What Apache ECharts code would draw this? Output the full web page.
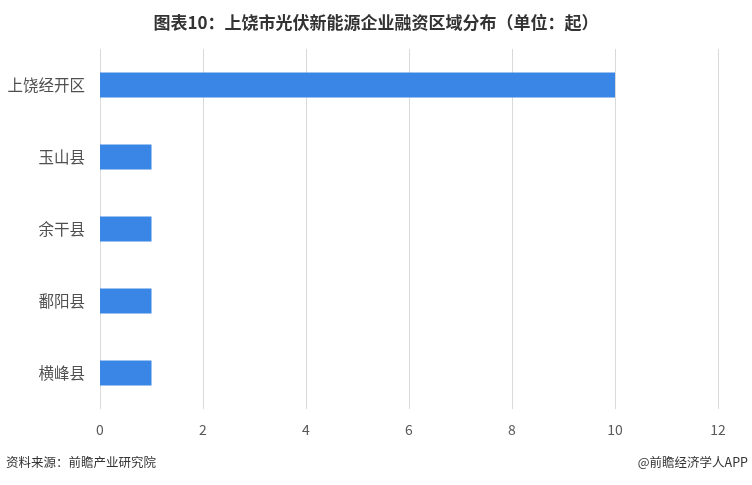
<!DOCTYPE html>
<html><head><meta charset="utf-8">
<script src="https://cdn.jsdelivr.net/npm/echarts@6/dist/echarts.min.js"></script>
<style>html,body{margin:0;padding:0;background:#fff}#c{width:752px;height:485px}</style>
</head><body><div id="c"></div>
<script>
const categories = ['上饶经开区','玉山县','余干县','鄱阳县','横峰县'];
const values = [10,1,1,1,1];
const titleText = '图表10：上饶市光伏新能源企业融资区域分布（单位：起）';
const sourceText = '资料来源：前瞻产业研究院';
const brandText = '@前瞻经济学人APP';
const chart = echarts.init(document.getElementById('c'));
const font = '"Noto Sans CJK SC", sans-serif';
chart.setOption({
  animation:false,
  backgroundColor:'#fff',
  title:{text:titleText,left:'center',top:9,textStyle:{fontSize:17,fontWeight:'bold',color:'#333',fontFamily:font}},
  grid:{left:100,right:34,top:49,bottom:76},
  xAxis:{type:'value',min:0,max:12,interval:2,
    axisLine:{show:false},axisTick:{show:false},
    splitLine:{lineStyle:{color:'#d9d9d9'}},
    axisLabel:{fontSize:14,color:'#595959',margin:14,fontFamily:font}},
  yAxis:{type:'category',data:categories,inverse:true,
    axisLine:{show:false},axisTick:{show:false},
    axisLabel:{fontSize:15.5,color:'#505050',margin:15,fontFamily:font}},
  series:[{type:'bar',data:values,barWidth:25,itemStyle:{color:'#3a86e6'}}],
  graphic:[
    {type:'text',left:6,top:456,style:{text:sourceText,fontSize:12.5,fill:'#333',fontFamily:font}},
    {type:'text',right:4,top:456,style:{text:brandText,fontSize:12.5,fill:'#333',fontFamily:font}}
  ]
});
</script></body></html>
